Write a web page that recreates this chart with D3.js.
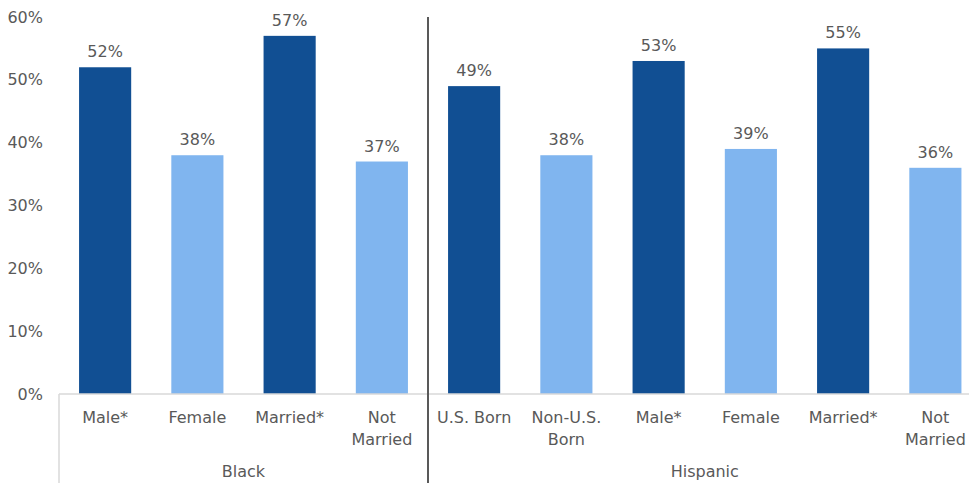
<!DOCTYPE html>
<html><head><meta charset="utf-8">
<script src="https://cdn.jsdelivr.net/npm/d3@7"></script>
<style>body{margin:0;background:#fff}text{font-family:"DejaVu Sans",sans-serif;fill:#595959}</style>
</head><body>
<svg id="c" width="969" height="483"></svg>
<script>
const groups = ["Black", "Hispanic"];
const blackCategories = ["Male*", "Female", "Married*", "Not Married"];
const blackValues = [0.52, 0.38, 0.57, 0.37];
const hispanicCategories = ["U.S. Born", "Non-U.S. Born", "Male*", "Female", "Married*", "Not Married"];
const hispanicValues = [0.49, 0.38, 0.53, 0.39, 0.55, 0.36];
const yTicks = [0, 0.1, 0.2, 0.3, 0.4, 0.5, 0.6];
const darkCats = ["Male*", "Married*", "U.S. Born"];
const labelLines = {"Not Married": ["Not", "Married"], "Non-U.S. Born": ["Non-U.S.", "Born"]};

const rows = [];
blackCategories.forEach((c, i) => rows.push({group: "Black", cat: c, v: blackValues[i], id: "Black|" + c}));
hispanicCategories.forEach((c, i) => rows.push({group: "Hispanic", cat: c, v: hispanicValues[i], id: "Hispanic|" + c}));

const svg = d3.select("#c");
const x0 = 59, step = 92.25;
const x = d3.scaleBand().domain(rows.map(d => d.id)).range([x0, x0 + step * rows.length]).paddingInner(0.435).paddingOuter(0.2175);
const y = d3.scaleLinear().domain([0, 0.6]).range([394, 17]);

// y axis
const ya = svg.append("g").attr("transform", `translate(${x0},0)`)
  .call(d3.axisLeft(y).tickValues(yTicks).tickFormat(d3.format(".0%")).tickSize(0).tickPadding(16));
ya.select(".domain").remove();
ya.selectAll("text").style("font-size", "16px").style("font-family", "DejaVu Sans").attr("fill", "#595959");

// bars
svg.selectAll("rect.bar").data(rows).join("rect")
  .attr("x", d => x(d.id)).attr("width", x.bandwidth())
  .attr("y", d => y(d.v)).attr("height", d => y(0) - y(d.v))
  .attr("fill", d => darkCats.includes(d.cat) ? "#114F93" : "#80B5EF");

// value labels
svg.selectAll("text.val").data(rows).join("text")
  .attr("x", d => x(d.id) + x.bandwidth() / 2).attr("y", d => y(d.v) - 10)
  .attr("text-anchor", "middle").style("font-size", "16px")
  .text(d => d3.format(".0%")(d.v));

// baseline
svg.append("line").attr("x1", x0).attr("x2", 969).attr("y1", y(0)).attr("y2", y(0))
  .attr("stroke", "#d9d9d9").attr("stroke-width", 1.5);

// category labels
rows.forEach(d => {
  const lines = labelLines[d.cat] || [d.cat];
  const t = svg.append("text").attr("text-anchor", "middle").style("font-size", "16px")
    .attr("x", x(d.id) + x.bandwidth() / 2);
  lines.forEach((l, i) => t.append("tspan").attr("x", x(d.id) + x.bandwidth() / 2).attr("y", 423 + i * 22).text(l));
});

// group labels and separators
const groupExtent = g => {
  const ids = rows.filter(r => r.group === g).map(r => r.id);
  return [x(ids[0]) - x.step() * x.paddingInner() / 2, x(ids[ids.length - 1]) + x.bandwidth() + x.step() * x.paddingInner() / 2];
};
groups.forEach(g => {
  const [a, b] = groupExtent(g);
  svg.append("text").attr("x", (a + b) / 2).attr("y", 477).attr("text-anchor", "middle").style("font-size", "16px").text(g);
});
svg.append("line").attr("x1", x0).attr("x2", x0).attr("y1", y(0)).attr("y2", 483).attr("stroke", "#d9d9d9").attr("stroke-width", 1.5);
const sep = groupExtent("Black")[1];
svg.append("line").attr("x1", sep).attr("x2", sep).attr("y1", 17).attr("y2", 483).attr("stroke", "#595959").attr("stroke-width", 2);
</script>
</body></html>
